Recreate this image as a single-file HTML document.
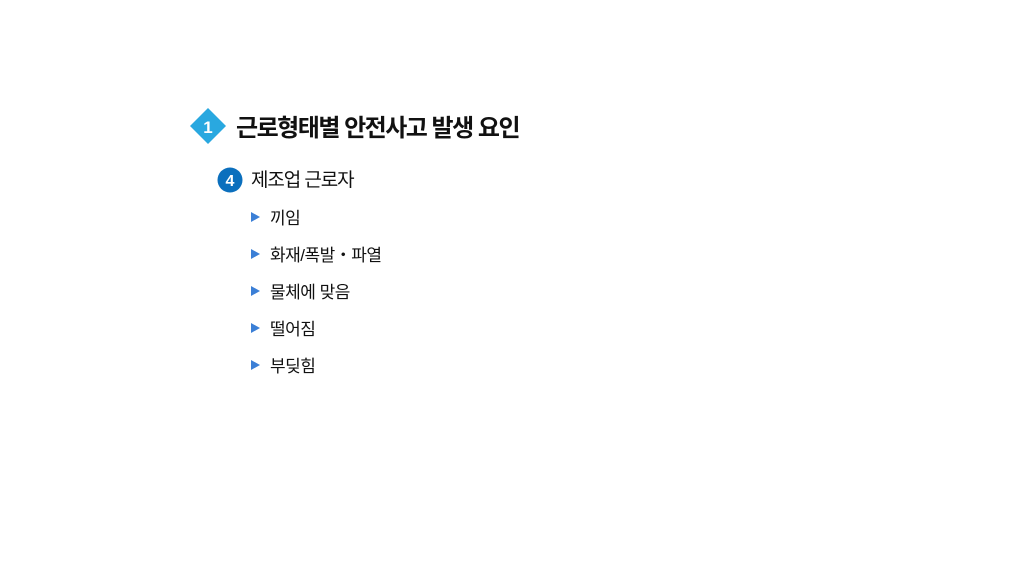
<!DOCTYPE html>
<html><head><meta charset="utf-8"><style>
body{margin:0;width:1010px;height:568px;background:#fff;position:relative;overflow:hidden;font-family:"Liberation Sans","Noto Sans CJK KR",sans-serif;color:#111}
.a{position:absolute;white-space:nowrap}
.t{font-size:24px;font-weight:bold;left:236px;top:108px;letter-spacing:-1.5px}
.s{font-size:19px;left:251px;top:165px;letter-spacing:-1.1px}
.b{font-size:17px;left:270px;letter-spacing:-0.5px}
.tri{position:absolute;left:251px;width:0;height:0;border-left:9px solid #3b7fd6;border-top:5px solid transparent;border-bottom:5px solid transparent}
</style></head><body>
<svg class="a" style="left:190px;top:108px" width="36" height="36"><polygon points="18,0 36,18 18,36 0,18" fill="#29a8e0"/><text x="18" y="25" font-size="17" font-weight="bold" fill="#fff" text-anchor="middle" font-family="Liberation Sans">1</text></svg>
<div class="a t">근로형태별 안전사고 발생 요인</div>
<svg class="a" style="left:217px;top:167px" width="26" height="26"><circle cx="13" cy="13" r="12.5" fill="#0b6fbd"/><text x="13" y="19" font-size="16" font-weight="bold" fill="#fff" text-anchor="middle" font-family="Liberation Sans">4</text></svg>
<div class="a s">제조업 근로자</div>
<div class="tri" style="top:212px"></div><div class="a b" style="top:204px">끼임</div>
<div class="tri" style="top:249px"></div><div class="a b" style="top:241px">화재/폭발・파열</div>
<div class="tri" style="top:286px"></div><div class="a b" style="top:278px">물체에 맞음</div>
<div class="tri" style="top:323px"></div><div class="a b" style="top:315px">떨어짐</div>
<div class="tri" style="top:360px"></div><div class="a b" style="top:352px">부딪힘</div>
</body></html>
